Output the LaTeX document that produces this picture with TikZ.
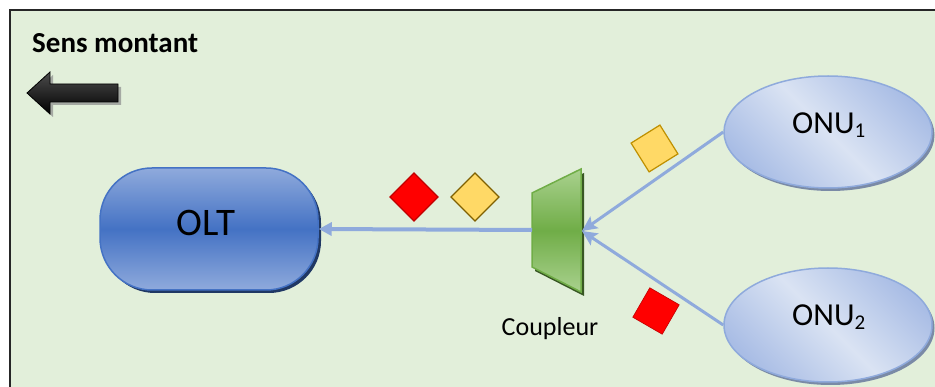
\documentclass[tikz,border=0pt]{standalone}
\usepackage{fontspec}
\setmainfont{Carlito}
\usetikzlibrary{arrows.meta,shapes.geometric,shadows}

\definecolor{bgGreen}{HTML}{E2EFDA}
\definecolor{linkBlue}{HTML}{8FAADC}
\definecolor{oltDark}{HTML}{4472C4}
\definecolor{oltLight}{HTML}{8FAADC}
\definecolor{oltShadow}{HTML}{203864}
\definecolor{onuLight}{HTML}{DAE3F3}
\definecolor{onuDark}{HTML}{A9BDE5}
\definecolor{onuEdge}{HTML}{8FAADC}
\definecolor{onuShadow}{HTML}{7A8AA6}
\definecolor{cplDark}{HTML}{70AD47}
\definecolor{cplLight}{HTML}{A9D18E}
\definecolor{cplShadow}{HTML}{385723}
\definecolor{pktRed}{HTML}{FF0000}
\definecolor{pktRedEdge}{HTML}{C00000}
\definecolor{pktYellow}{HTML}{FFD966}
\definecolor{pktYellowEdge}{HTML}{7F6000}
\definecolor{pktYellowEdgeB}{HTML}{BF9000}

\tikzset{
  oltbox/.style={rectangle, rounded corners=52pt, minimum width=218pt,
    minimum height=122pt, inner sep=0pt, draw=oltDark, line width=1.5pt,
    top color=oltLight, bottom color=oltLight, middle color=oltDark,
    drop shadow={shadow xshift=3pt, shadow yshift=-3pt, fill=oltShadow, opacity=1}},
  onubox/.style={ellipse, minimum width=208pt, minimum height=112pt,
    inner sep=0pt, draw=onuEdge, line width=1.5pt,
    left color=onuDark, right color=onuDark, middle color=onuLight,
    shading angle=-45,
    drop shadow={shadow xshift=2.5pt, shadow yshift=-3pt, fill=onuShadow, opacity=1}},
  pkt/.style={rectangle, minimum size=34pt, inner sep=0pt, line width=1.2pt},
  trunk/.style={draw=linkBlue, line width=4pt},
  branch/.style={draw=linkBlue, line width=3pt},
  lbl/.style={inner sep=0pt, text=black},
}

\begin{document}
\begin{tikzpicture}[x=1pt, y=-1pt]
  \useasboundingbox (0,0) rectangle (935,387);

  % page background, then the panel, which runs on past the page edge
  \fill[white] (-5,-5) rectangle (945,397);
  \fill[bgGreen] (9.5,10.5) rectangle (945,397);
  \draw[line width=2pt, draw=black!85] (9.5,397) -- (9.5,10.5) -- (945,10.5);

  % direction arrow
  \fill[black!45, opacity=0.7, shift={(3,3)}]
    (27,93) -- (50,72) -- (50,84) -- (118,84) -- (118,102) -- (50,102) -- (50,114) -- cycle;
  \path[draw=black, line width=0.8pt, top color=black!70, bottom color=black]
    (27,93) -- (50,72) -- (50,84) -- (118,84) -- (118,102) -- (50,102) -- (50,114) -- cycle;

  % equipment
  \node[oltbox] (olt) at (209,229) {};
  \node[onubox] (onu1) at (828,132) {};
  \node[onubox, minimum height=114pt] (onu2) at (828,325) {};

  % coupler
  \fill[cplShadow, shift={(3,4)}] (532,193) -- (581,169) -- (581,292) -- (532,267) -- cycle;
  \path[draw=cplDark, line width=1.5pt, top color=cplLight, bottom color=cplLight, middle color=cplDark]
    (532,193) -- (581,169) -- (581,292) -- (532,267) -- cycle;
  \coordinate (cplW) at (532,230);
  \coordinate (cplE) at (582,231);

  % links
  \draw[trunk, -{Triangle[length=13pt,width=13pt]}] (cplW) -- (olt.east);
  \draw[branch, -{Stealth[length=15pt,width=14pt,inset=3pt]}] (onu1.west) -- (cplE);
  \draw[branch, -{Stealth[length=15pt,width=14pt,inset=3pt]}] (onu2.west) -- (cplE);

  % packets
  \node[pkt, rotate=45, fill=pktRed, draw=pktRedEdge] (p1) at (414,197) {};
  \node[pkt, rotate=45, fill=pktYellow, draw=pktYellowEdge] (p2) at (475,197) {};
  \node[pkt, rotate=32, fill=pktYellow, draw=pktYellowEdgeB] (p3) at (654.5,148.5) {};
  \node[pkt, rotate=-30, fill=pktRed, draw=pktRedEdge, line width=0.6pt] (p4) at (656,311) {};

  % labels
  \node[lbl, anchor=base west, font=\fontsize{29}{34}\selectfont\bfseries] (title) at (32,53) {Sens montant};
  \node[lbl, anchor=base, font=\fontsize{39}{44}\selectfont] (oltlbl) at (206,236) {OLT};
  \node[lbl, anchor=base west, font=\fontsize{32}{36}\selectfont] (onu1lbl) at (792,134)
    {ONU\raisebox{-3.5pt}{\fontsize{21}{21}\selectfont 1}};
  \node[lbl, anchor=base west, font=\fontsize{32}{36}\selectfont] (onu2lbl) at (792,326)
    {ONU\raisebox{-3.5pt}{\fontsize{21}{21}\selectfont 2}};
  \node[lbl, anchor=base, font=\fontsize{26}{30}\selectfont] (cpllbl) at (550,336) {Coupleur};
\end{tikzpicture}
\end{document}
